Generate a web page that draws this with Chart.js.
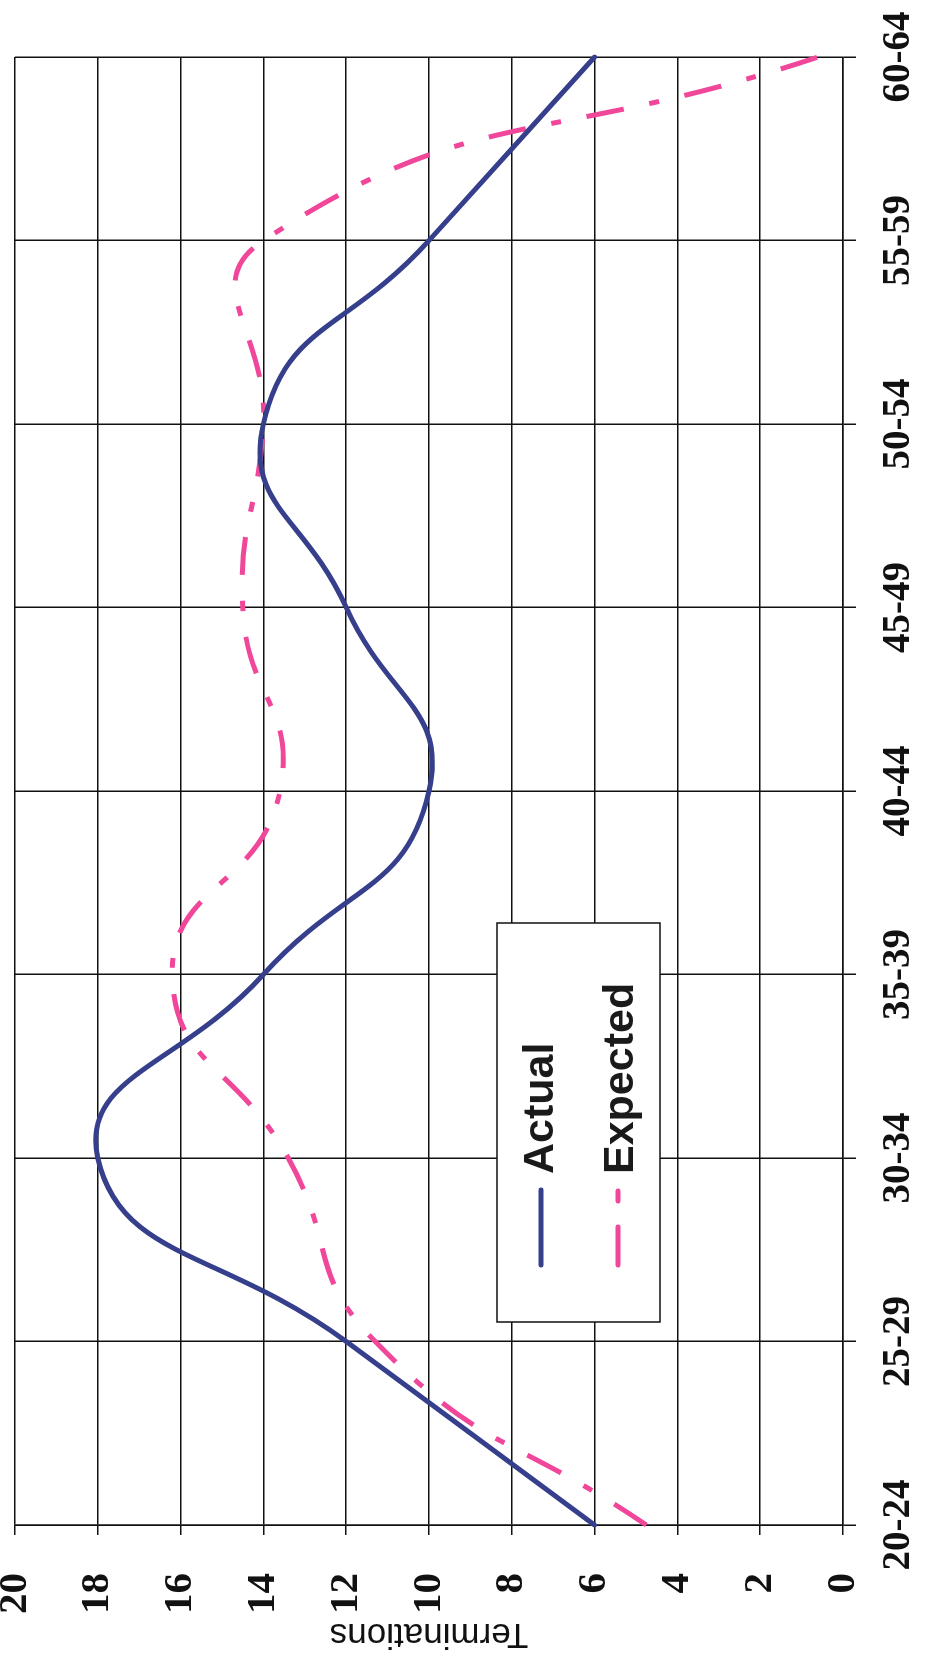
<!DOCTYPE html>
<html>
<head>
<meta charset="utf-8">
<script src="https://cdn.jsdelivr.net/npm/chart.js@4.4.1/dist/chart.umd.min.js"></script>
<style>
  html, body { margin: 0; padding: 0; background: #ffffff; }
  body { width: 932px; height: 1673px; overflow: hidden; position: relative; }
  #wrap {
    position: absolute; left: 0; top: 0;
    width: 1673px; height: 932px;
    transform-origin: 0 0;
    transform: translateY(1673px) rotate(-90deg);
    background: #ffffff;
  }
</style>
</head>
<body>
<div id="wrap"><canvas id="c" width="1673" height="932"></canvas></div>
<script>
// ---- data ----
const categories = ['20-24', '25-29', '30-34', '35-39', '40-44', '45-49', '50-54', '55-59', '60-64'];
const actualValues = [6, 12, 18, 14, 10, 12, 14, 10, 6];
const expectedValues = [4.75, 11.3, 13.4, 16.2, 13.6, 14.5, 14.0, 14.0, 0.6];
const seriesNames = ['Actual', 'Expected'];
const valueAxisTitle = 'Terminations';
const valueMin = 0, valueMax = 20, valueStep = 2;

// ---- legend drawn inside the plot ----
const boxLegend = {
  id: 'boxLegend',
  afterDraw(chart) {
    const ctx = chart.ctx;
    const bx = 351, by = 497, bw = 399, bh = 163;
    ctx.save();
    ctx.fillStyle = '#ffffff';
    ctx.fillRect(bx, by, bw, bh);
    ctx.strokeStyle = '#111111';
    ctx.lineWidth = 1.5;
    ctx.strokeRect(bx, by, bw, bh);
    const rows = [{line: 541, base: 553}, {line: 618, base: 633}];
    chart.data.datasets.forEach((ds, i) => {
      const r = rows[i];
      ctx.beginPath();
      ctx.strokeStyle = ds.borderColor;
      ctx.lineWidth = ds.borderWidth;
      ctx.lineCap = 'round';
      ctx.setLineDash(ds.borderDash || []);
      ctx.moveTo(408, r.line);
      ctx.lineTo(483, r.line);
      ctx.stroke();
      ctx.setLineDash([]);
      ctx.fillStyle = '#1a1a1a';
      ctx.font = 'bold 43px "Liberation Sans", Arial, sans-serif';
      ctx.textBaseline = 'alphabetic';
      ctx.textAlign = 'left';
      ctx.fillText(ds.label, 499, r.base);
    });
    ctx.restore();
  }
};

new Chart(document.getElementById('c'), {
  type: 'line',
  data: {
    labels: categories,
    datasets: [
      {
        label: seriesNames[0],
        data: actualValues,
        borderColor: '#363f8c',
        borderWidth: 5,
        pointRadius: 0,
        tension: 0.5,
        borderCapStyle: 'round',
        fill: false
      },
      {
        label: seriesNames[1],
        data: expectedValues,
        borderColor: '#f0479a',
        borderWidth: 5,
        borderDash: [38, 26, 10, 26],
        pointRadius: 0,
        tension: 0.5,
        fill: false
      }
    ]
  },
  options: {
    responsive: false,
    animation: false,
    devicePixelRatio: 1,
    layout: { padding: { top: 15, right: 57, left: 0, bottom: 0 } },
    plugins: { legend: { display: false }, tooltip: { enabled: false } },
    scales: {
      x: {
        type: 'category',
        offset: false,
        grid: { color: '#111111', lineWidth: 1.5, tickLength: 13, drawTicks: true },
        border: { color: '#111111', width: 1.5 },
        ticks: {
          color: '#111111',
          padding: 20,
          maxRotation: 0,
          autoSkip: false,
          font: { family: '"Liberation Serif", "Times New Roman", serif', size: 39, weight: 'bold' }
        },
        afterFit(scale) { scale.height = 89; scale.paddingLeft = 0; scale.paddingRight = 0; }
      },
      y: {
        min: valueMin,
        max: valueMax,
        grid: { color: '#111111', lineWidth: 1.5, tickLength: 10, drawTicks: true },
        border: { color: '#111111', width: 1.5 },
        ticks: {
          stepSize: valueStep,
          color: '#111111',
          padding: 38,
          font: { family: '"Liberation Serif", "Times New Roman", serif', size: 41, weight: 'bold' }
        },
        title: {
          display: true,
          text: valueAxisTitle,
          color: '#111111',
          padding: { top: 18, bottom: 0 },
          font: { family: '"Liberation Sans", Arial, sans-serif', size: 35, weight: 'normal' }
        },
        afterFit(scale) { scale.width = 148; scale.paddingTop = 0; scale.paddingBottom = 0; }
      }
    }
  },
  plugins: [boxLegend]
});
</script>
</body>
</html>
